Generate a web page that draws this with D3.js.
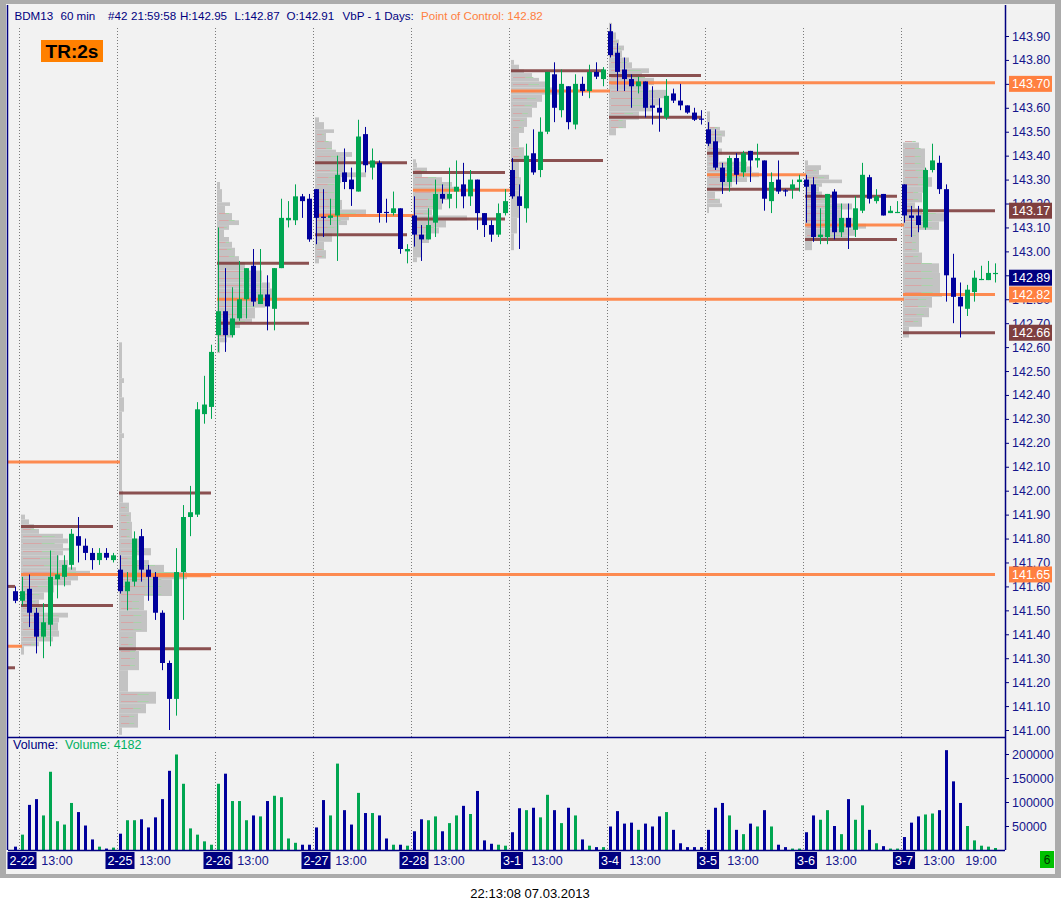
<!DOCTYPE html>
<html><head><meta charset="utf-8">
<script src="https://cdn.jsdelivr.net/npm/d3@7"></script>
<style>body{margin:0;background:#fff;} svg{display:block;font-family:"Liberation Sans",Arial,sans-serif;}</style>
</head><body><svg id="c" width="1061" height="910"></svg>
<script>
// ---------- DATA ----------
const dayLabels = ["2-22","2-25","2-26","2-27","2-28","3-1","3-4","3-5","3-6","3-7"];
const hourLabels = ["13:00","13:00","13:00","13:00","13:00","13:00","13:00","13:00","13:00","13:00"];
const lastHourLabel = "19:00";
// candles [open, high, low, close]
const c2_21 = [[141.58,141.60,141.53,141.54]];
const c2_22 = [[141.54,141.64,141.52,141.58],[141.59,141.65,141.43,141.49],[141.49,141.51,141.32,141.39],[141.39,141.53,141.30,141.45],[141.44,141.75,141.35,141.64],[141.63,141.73,141.55,141.65],[141.64,141.73,141.60,141.69],[141.69,141.84,141.67,141.82],[141.81,141.89,141.70,141.77],[141.77,141.80,141.71,141.74],[141.74,141.76,141.67,141.71],[141.71,141.76,141.69,141.74],[141.74,141.76,141.71,141.72],[141.71,141.74,141.70,141.73]];
const c2_25 = [[141.67,141.73,141.57,141.58],[141.58,141.66,141.50,141.62],[141.62,141.83,141.60,141.80],[141.81,141.84,141.62,141.67],[141.67,141.69,141.54,141.64],[141.64,141.66,141.46,141.49],[141.49,141.50,141.25,141.28],[141.28,141.29,141.00,141.13],[141.13,141.76,141.06,141.66],[141.66,141.94,141.46,141.89],[141.89,142.02,141.81,141.91],[141.90,142.37,141.89,142.34],[142.32,142.48,142.28,142.36],[142.35,142.61,142.30,142.58]];
const c2_26 = [[142.65,143.10,142.58,142.75],[142.75,142.93,142.58,142.65],[142.65,142.85,142.64,142.72],[142.72,142.96,142.71,142.80],[142.80,142.93,142.72,142.93],[142.94,143.01,142.77,142.79],[142.78,143.01,142.78,142.82],[142.82,142.90,142.67,142.77],[142.76,142.93,142.67,142.93],[142.93,143.22,142.93,143.14],[143.13,143.21,143.10,143.14],[143.13,143.28,143.11,143.23],[143.23,143.24,143.14,143.21],[143.22,143.24,143.04,143.05]];
const c2_27 = [[143.26,143.26,143.03,143.14],[143.145,143.26,143.06,143.14],[143.14,143.22,143.11,143.15],[143.15,143.40,142.96,143.32],[143.33,143.43,143.26,143.29],[143.30,143.35,143.19,143.26],[143.25,143.55,143.25,143.48],[143.49,143.52,143.33,143.36],[143.35,143.43,143.30,143.38],[143.37,143.38,143.12,143.16],[143.165,143.22,143.12,143.16],[143.16,143.25,143.15,143.18],[143.18,143.18,142.99,143.01],[143.00,143.03,142.95,143.01]];
const c2_28 = [[143.15,143.23,143.02,143.07],[143.07,143.11,142.96,143.05],[143.05,143.18,143.05,143.11],[143.12,143.30,143.06,143.24],[143.24,143.28,143.20,143.22],[143.22,143.35,143.18,143.24],[143.25,143.38,143.18,143.27],[143.28,143.37,143.18,143.23],[143.23,143.34,143.19,143.30],[143.30,143.30,143.09,143.16],[143.16,143.16,143.06,143.11],[143.11,143.13,143.04,143.07],[143.07,143.20,143.06,143.16],[143.16,143.26,143.15,143.21]];
const c3_01 = [[143.34,143.39,143.22,143.23],[143.23,143.28,143.01,143.19],[143.18,143.45,143.12,143.40],[143.41,143.51,143.32,143.33],[143.34,143.56,143.31,143.50],[143.50,143.75,143.49,143.75],[143.74,143.79,143.54,143.60],[143.59,143.76,143.56,143.70],[143.69,143.69,143.51,143.54],[143.53,143.74,143.51,143.70],[143.70,143.73,143.65,143.67],[143.67,143.78,143.64,143.75],[143.75,143.79,143.72,143.73],[143.72,143.77,143.69,143.76]];
const c3_04 = [[143.92,143.95,143.81,143.82],[143.83,143.87,143.67,143.75],[143.76,143.81,143.67,143.72],[143.72,143.74,143.60,143.69],[143.69,143.73,143.66,143.71],[143.71,143.71,143.56,143.60],[143.61,143.69,143.53,143.60],[143.60,143.64,143.50,143.58],[143.56,143.72,143.55,143.65],[143.66,143.68,143.62,143.63],[143.63,143.70,143.59,143.61],[143.61,143.61,143.575,143.58],[143.58,143.60,143.545,143.55],[143.555,143.59,143.53,143.55]];
const c3_05 = [[143.51,143.54,143.44,143.45],[143.46,143.51,143.34,143.35],[143.35,143.37,143.24,143.29],[143.29,143.40,143.25,143.39],[143.39,143.41,143.28,143.32],[143.33,143.42,143.31,143.41],[143.42,143.42,143.29,143.38],[143.38,143.45,143.35,143.39],[143.38,143.38,143.17,143.22],[143.21,143.33,143.16,143.29],[143.30,143.38,143.24,143.25],[143.255,143.26,143.23,143.25],[143.26,143.30,143.22,143.28],[143.29,143.32,143.25,143.30]];
const c3_06 = [[143.30,143.32,143.12,143.27],[143.28,143.31,143.04,143.06],[143.06,143.18,143.03,143.07],[143.06,143.24,143.03,143.24],[143.25,143.26,143.05,143.08],[143.08,143.20,143.06,143.14],[143.14,143.20,143.01,143.10],[143.09,143.23,143.06,143.18],[143.17,143.37,143.16,143.32],[143.31,143.32,143.20,143.22],[143.21,143.26,143.20,143.23],[143.24,143.24,143.15,143.15],[143.16,143.19,143.16,143.17],[143.16,143.21,143.16,143.165]];
const c3_07 = [[143.28,143.28,143.12,143.15],[143.15,143.19,143.06,143.14],[143.15,143.19,143.08,143.11],[143.10,143.35,143.09,143.34],[143.34,143.45,143.33,143.38],[143.37,143.40,143.24,143.26],[143.26,143.28,142.79,142.90],[142.89,142.99,142.70,142.81],[142.81,142.87,142.64,142.77],[142.76,142.86,142.73,142.84],[142.83,142.92,142.79,142.89],[142.88,142.94,142.88,142.885],[142.88,142.96,142.88,142.91],[142.905,142.95,142.87,142.91]];
// hourly volume
const v2_21 = [7000];
const v2_22 = [32000,94000,106000,72000,163000,60000,53000,98000,79000,51000,22000,7000,3000,5000];
const v2_25 = [34000,62000,62000,64000,47000,68000,106000,165000,199000,138000,45000,32000,18000,11000];
const v2_26 = [138000,159000,102000,102000,62000,72000,70000,102000,113000,110000,24000,15000,11000,11000];
const v2_27 = [47000,104000,72000,180000,83000,53000,119000,77000,77000,72000,24000,11000,11000,9000];
const v2_28 = [39000,64000,62000,70000,39000,56000,72000,92000,75000,123000,20000,13000,11000,9000];
const v3_01 = [37000,87000,83000,88000,68000,115000,83000,56000,88000,72000,22000,9000,6000,6000];
const v3_04 = [49000,81000,55000,57000,42000,55000,49000,70000,79000,42000,14000,6000,6000,6000];
const v3_05 = [42000,88000,98000,72000,42000,33000,55000,49000,83000,49000,11000,6000,3000,3000];
const v3_06 = [37000,72000,63000,83000,50000,33000,106000,63000,93000,42000,14000,8000,3000,3000];
const v3_07 = [27000,57000,70000,74000,76000,83000,208000,143000,98000,50000,20000,9000,7000,4182];
// volume-by-price profiles: [top price of level band, relative volume]; last entry closes the band
const p2_22 = [[141.90,4],[141.88,8],[141.86,13],[141.84,18],[141.82,42],[141.80,47],[141.78,42],[141.76,48],[141.75,42],[141.73,38],[141.71,47],[141.68,55],[141.665,69],[141.645,57],[141.625,50],[141.605,33],[141.575,23],[141.545,18],[141.515,23],[141.49,47],[141.47,38],[141.45,37],[141.415,38],[141.39,32],[141.37,18],[141.35,3],[141.315,0]];
const p2_25 = [[142.62,3],[142.47,5],[142.45,3],[142.39,5],[142.33,3],[142.24,5],[142.22,3],[142.00,4],[141.95,10],[141.91,12],[141.87,13],[141.80,20],[141.76,32],[141.73,15],[141.71,30],[141.69,45],[141.66,68],[141.63,53],[141.56,25],[141.50,28],[141.41,17],[141.33,20],[141.25,9],[141.16,37],[141.11,27],[141.07,19],[141.01,3],[140.98,0]];
const p2_26 = [[143.29,3],[143.26,5],[143.205,13],[143.19,8],[143.16,15],[143.13,22],[143.11,12],[143.09,7],[143.06,12],[143.04,15],[143.015,18],[142.98,22],[142.955,28],[142.92,45],[142.87,53],[142.845,58],[142.805,48],[142.765,38],[142.72,35],[142.70,23],[142.68,15],[142.64,10],[142.62,3],[142.575,0]];
const p2_27 = [[143.56,4],[143.54,9],[143.51,19],[143.495,11],[143.46,17],[143.425,21],[143.415,37],[143.395,31],[143.375,29],[143.33,51],[143.31,26],[143.285,24],[143.215,27],[143.175,51],[143.15,34],[143.13,32],[143.11,24],[143.075,17],[143.04,9],[143.005,11],[142.97,4],[142.95,0]];
const p2_28 = [[143.385,3],[143.37,4],[143.35,14],[143.33,9],[143.31,29],[143.29,39],[143.27,43],[143.25,36],[143.215,29],[143.175,19],[143.15,54],[143.13,33],[143.10,26],[143.075,16],[143.035,8],[142.975,4],[142.955,0]];
const p3_01 = [[143.80,3],[143.78,8],[143.76,13],[143.745,21],[143.725,28],[143.71,35],[143.685,43],[143.675,50],[143.655,31],[143.625,26],[143.60,21],[143.56,16],[143.52,13],[143.495,8],[143.435,13],[143.38,8],[143.31,10],[143.255,8],[143.14,6],[143.075,3],[143.005,0]];
const p3_04 = [[143.955,3],[143.915,7],[143.885,10],[143.86,15],[143.84,13],[143.81,20],[143.79,23],[143.765,40],[143.745,33],[143.725,45],[143.695,40],[143.675,57],[143.64,50],[143.61,43],[143.585,30],[143.55,17],[143.515,7],[143.485,0]];
const p3_05 = [[143.585,3],[143.52,13],[143.505,18],[143.48,15],[143.455,8],[143.43,15],[143.405,12],[143.375,40],[143.355,45],[143.33,52],[143.31,40],[143.29,25],[143.27,15],[143.25,8],[143.22,13],[143.20,15],[143.185,2],[143.16,0]];
const p3_06 = [[143.38,3],[143.36,16],[143.34,14],[143.32,24],[143.30,37],[143.285,17],[143.27,14],[143.25,17],[143.225,31],[143.20,47],[143.175,37],[143.14,51],[143.115,61],[143.095,51],[143.065,44],[143.045,7],[143.005,0]];
const p3_07 = [[143.455,16],[143.43,22],[143.345,24],[143.31,29],[143.27,22],[143.245,19],[143.205,12],[143.18,19],[143.16,41],[143.125,36],[143.09,16],[142.995,19],[142.95,36],[142.91,37],[142.825,39],[142.81,29],[142.765,26],[142.725,19],[142.685,6],[142.64,0]];
// value area high / low and point of control per day
const vahPrices = [141.85,141.99,142.95,143.37,143.33,143.755,143.735,143.41,143.23,143.17];
const valPrices = [141.52,141.34,142.70,143.07,143.135,143.38,143.56,143.26,143.05,142.66];
const pocPrices = [141.65,141.645,142.80,143.15,143.255,143.67,143.705,143.32,143.11,142.82];
// bar index (global hourly bar) up to which each POC stays drawn
const pocUntilBar = [139,27,126,56,69.7,84,139,112,126,139];
// levels carried from earlier sessions
const oldPocPrices = [142.12,141.35];
const oldPocUntilBar = [14,0];
const oldVaPrices = [141.60,141.26];
// price axis
const priceTicks = [141.00,141.10,141.20,141.30,141.40,141.50,141.60,141.70,141.80,141.90,142.00,142.10,142.20,142.30,142.40,142.50,142.60,142.70,142.80,142.90,143.00,143.10,143.20,143.30,143.40,143.50,143.60,143.70,143.80,143.90];
const volumeTicks = [50000,100000,150000,200000];
const markerPrices = [143.70,143.17,142.89,142.82,142.66,141.65];
const markerKinds = ["poc","va","last","poc","va","poc"];

// ---------- DRAW ----------
const svg = d3.select("#c");
const W = 1061, H = 910;
const L = 8, R = 1005, T = 6, PB = 737, VB = 850;
const BLUE = "#00009c", GREEN = "#00a651", NAVY = "#000080", ORANGE = "#ff8040", BROWN = "#804040";

const x = d3.scaleLinear().domain([-1, 139]).range([15, 995]);
const y = d3.scaleLinear().domain([141.00, 143.90]).range([730, 36]);
const yv = d3.scaleLinear().domain([0, 200000]).range([VB, 754]);
const pw = d3.scaleLinear().domain([0, 100]).range([0, 100]);

svg.append("rect").attr("width", W).attr("height", H).attr("fill", "#fff");
svg.append("rect").attr("x", 0).attr("y", 0).attr("width", W).attr("height", 878).attr("fill", "#ababab");
svg.append("rect").attr("x", 6).attr("y", 4).attr("width", 1049).attr("height", 870).attr("fill", "#f2f2f2");

const defs = svg.append("defs");
defs.append("clipPath").attr("id", "cp").append("rect").attr("x", L).attr("y", T).attr("width", R - L).attr("height", PB - T);
defs.append("clipPath").attr("id", "cv").append("rect").attr("x", L).attr("y", PB).attr("width", R - L).attr("height", VB - PB);

const gp = svg.append("g").attr("clip-path", "url(#cp)");
const gv = svg.append("g").attr("clip-path", "url(#cv)");

const candleDays = [c2_22, c2_25, c2_26, c2_27, c2_28, c3_01, c3_04, c3_05, c3_06, c3_07];
const volDays = [v2_22, v2_25, v2_26, v2_27, v2_28, v3_01, v3_04, v3_05, v3_06, v3_07];
const profDays = [p2_22, p2_25, p2_26, p2_27, p2_28, p3_01, p3_04, p3_05, p3_06, p3_07];

const candles = [];
c2_21.forEach((c, i) => candles.push({g: -1, o: c[0], h: c[1], l: c[2], c: c[3], v: v2_21[i]}));
candleDays.forEach((arr, d) => arr.forEach((c, i) => candles.push({g: 14 * d + i, o: c[0], h: c[1], l: c[2], c: c[3], v: volDays[d][i]})));
const col = c => c.c >= c.o ? GREEN : BLUE;

// profiles
profDays.forEach((p, d) => {
  const x0 = x(14 * d) - 1;
  for (let k = 0; k < p.length - 1; k++) {
    const top = p[k][0], bot = p[k + 1][0], v = p[k][1];
    if (v <= 0) continue;
    gp.append("rect").attr("x", x0).attr("y", y(top)).attr("width", pw(v)).attr("height", y(bot) - y(top))
      .attr("fill", "#c3c3c3");
    if (v > 9) {
      for (let r = Math.round(top * 100); r > Math.round(bot * 100); r--) {
        if (r % 3 !== 0) continue;
        const yy = Math.round(y(r / 100)) + 0.5;
        const split = x0 + 2 + pw(v) * 0.45;
        gp.append("line").attr("x1", x0 + 2).attr("x2", split).attr("y1", yy).attr("y2", yy).attr("stroke", "#d6a6a6").attr("stroke-width", 1);
        gp.append("line").attr("x1", split).attr("x2", x0 + pw(v) * 0.8).attr("y1", yy).attr("y2", yy).attr("stroke", "#a9d2a9").attr("stroke-width", 1);
      }
    }
  }
});

// day separators
dayLabels.forEach((lab, d) => {
  const sx = Math.round(x(14 * d) - 3) + 0.5;
  gp.append("line").attr("x1", sx).attr("x2", sx).attr("y1", 28).attr("y2", PB).attr("stroke", "#7a7a7a").attr("stroke-dasharray", "1,2");
  gv.append("line").attr("x1", sx).attr("x2", sx).attr("y1", 752).attr("y2", VB).attr("stroke", "#7a7a7a").attr("stroke-dasharray", "1,2");
});

// VA and POC lines
function hline(p, x1, x2, color) {
  gp.append("line").attr("x1", x1).attr("x2", x2).attr("y1", y(p)).attr("y2", y(p)).attr("stroke", color).attr("stroke-width", 3).attr("opacity", 0.9);
}
oldVaPrices.forEach(p => hline(p, L, x(-1), BROWN));
oldPocPrices.forEach((p, i) => hline(p, L, x(oldPocUntilBar[i]), ORANGE));
dayLabels.forEach((lab, d) => {
  const x1 = x(14 * d) - 1, x2 = x(14 * d + 13);
  hline(vahPrices[d], x1, x2, BROWN);
  hline(valPrices[d], x1, x2, BROWN);
  hline(pocPrices[d], x1, x(pocUntilBar[d]), ORANGE);
});

// candles
const cg = gp.selectAll("g.cd").data(candles).join("g");
cg.append("line").attr("x1", d => Math.round(x(d.g)) + 0.5).attr("x2", d => Math.round(x(d.g)) + 0.5)
  .attr("y1", d => y(d.h)).attr("y2", d => y(d.l)).attr("stroke", col).attr("stroke-width", 1);
cg.append("rect").attr("x", d => Math.round(x(d.g)) - 2).attr("width", 5)
  .attr("y", d => y(Math.max(d.o, d.c))).attr("height", d => Math.max(1.2, Math.abs(y(d.o) - y(d.c))))
  .attr("fill", col);

// volume bars
gv.selectAll("rect.vb").data(candles).join("rect").attr("x", d => Math.round(x(d.g)) - 1).attr("width", 3)
  .attr("y", d => yv(d.v)).attr("height", d => VB - yv(d.v)).attr("fill", col);

// frame lines
svg.append("line").attr("x1", 7.5).attr("x2", 7.5).attr("y1", 5).attr("y2", VB).attr("stroke", NAVY).attr("stroke-width", 1.5);
svg.append("line").attr("x1", R + 0.5).attr("x2", R + 0.5).attr("y1", 5).attr("y2", VB).attr("stroke", NAVY).attr("stroke-width", 1.5);
svg.append("line").attr("x1", L).attr("x2", R).attr("y1", PB + 0.5).attr("y2", PB + 0.5).attr("stroke", NAVY).attr("stroke-width", 1.5);
svg.append("line").attr("x1", L).attr("x2", R).attr("y1", VB + 0.5).attr("y2", VB + 0.5).attr("stroke", NAVY).attr("stroke-width", 1.5);

// price axis
const ax = svg.append("g").attr("transform", `translate(${R},0)`)
  .call(d3.axisRight(y).tickValues(priceTicks).tickFormat(d3.format(".2f")).tickSize(4).tickPadding(3));
ax.select(".domain").remove();
ax.selectAll("line").attr("stroke", NAVY);
ax.selectAll("text").attr("fill", "#14148c").style("font-size", "12.5px").style("font-family", "Liberation Sans, Arial, sans-serif");

const vax = svg.append("g").attr("transform", `translate(${R},0)`)
  .call(d3.axisRight(yv).tickValues(volumeTicks).tickFormat(d3.format("d")).tickSize(4).tickPadding(3));
vax.select(".domain").remove();
vax.selectAll("line").attr("stroke", NAVY);
vax.selectAll("text").attr("fill", "#14148c").style("font-size", "12.5px").style("font-family", "Liberation Sans, Arial, sans-serif");

// price markers
const mFill = {poc: ORANGE, va: "#7f3f3f", last: NAVY};
markerPrices.forEach((p, i) => {
  const yy = y(p);
  svg.append("rect").attr("x", 1009).attr("y", yy - 8).attr("width", 43).attr("height", 16).attr("fill", mFill[markerKinds[i]]);
  svg.append("text").attr("x", 1012).attr("y", yy + 4.5).attr("fill", "#fff").style("font-size", "12.5px").text(d3.format(".2f")(p));
});

// x axis labels
dayLabels.forEach((lab, d) => {
  const cx = x(14 * d);
  const t = svg.append("text").attr("x", cx).attr("y", 865).attr("text-anchor", "middle").attr("fill", "#fff").style("font-size", "12.5px").text(lab);
  const bw = t.node().getComputedTextLength() + 4;
  svg.insert("rect", () => t.node()).attr("x", cx - bw / 2).attr("y", 852).attr("width", bw).attr("height", 17).attr("fill", NAVY);
  svg.append("text").attr("x", x(14 * d + 5)).attr("y", 865).attr("text-anchor", "middle").attr("fill", "#14148c").style("font-size", "12.5px").text(hourLabels[d]);
});
svg.append("text").attr("x", x(14 * 9 + 11)).attr("y", 865).attr("text-anchor", "middle").attr("fill", "#14148c").style("font-size", "12.5px").text(lastHourLabel);
svg.append("rect").attr("x", 1040).attr("y", 851).attr("width", 14).attr("height", 17).attr("fill", "#00c000");
svg.append("text").attr("x", 1047).attr("y", 864).attr("text-anchor", "middle").attr("fill", "#003300").style("font-size", "12px").text("6");

// title
const tt = [["BDM13", 14.5], ["60 min", 60.5], ["#42", 108], ["21:59:58", 131], ["H:142.95", 180], ["L:142.87", 234.5], ["O:142.91", 286.5], ["VbP - 1 Days:", 342.5]];
tt.forEach(([s, tx]) => svg.append("text").attr("x", tx).attr("y", 19.5).attr("fill", NAVY).style("font-size", "11.6px").text(s));
svg.append("text").attr("x", 421).attr("y", 19.5).attr("fill", ORANGE).style("font-size", "11.6px").text("Point of Control: 142.82");

// TR box
svg.append("rect").attr("x", 41).attr("y", 40).attr("width", 62).attr("height", 22).attr("fill", "#ff8000");
svg.append("text").attr("x", 72).attr("y", 58).attr("text-anchor", "middle").attr("fill", "#000").style("font-size", "19px").style("font-weight", "bold").text("TR:2s");

// volume header
svg.append("text").attr("x", 13).attr("y", 749).attr("fill", NAVY).style("font-size", "12.5px").text("Volume:");
svg.append("text").attr("x", 65).attr("y", 749).attr("fill", "#00b060").style("font-size", "12.5px").text("Volume: 4182");

// footer
svg.append("text").attr("x", 530).attr("y", 898).attr("text-anchor", "middle").attr("fill", "#000").style("font-size", "13px").text("22:13:08 07.03.2013");
</script></body></html>
